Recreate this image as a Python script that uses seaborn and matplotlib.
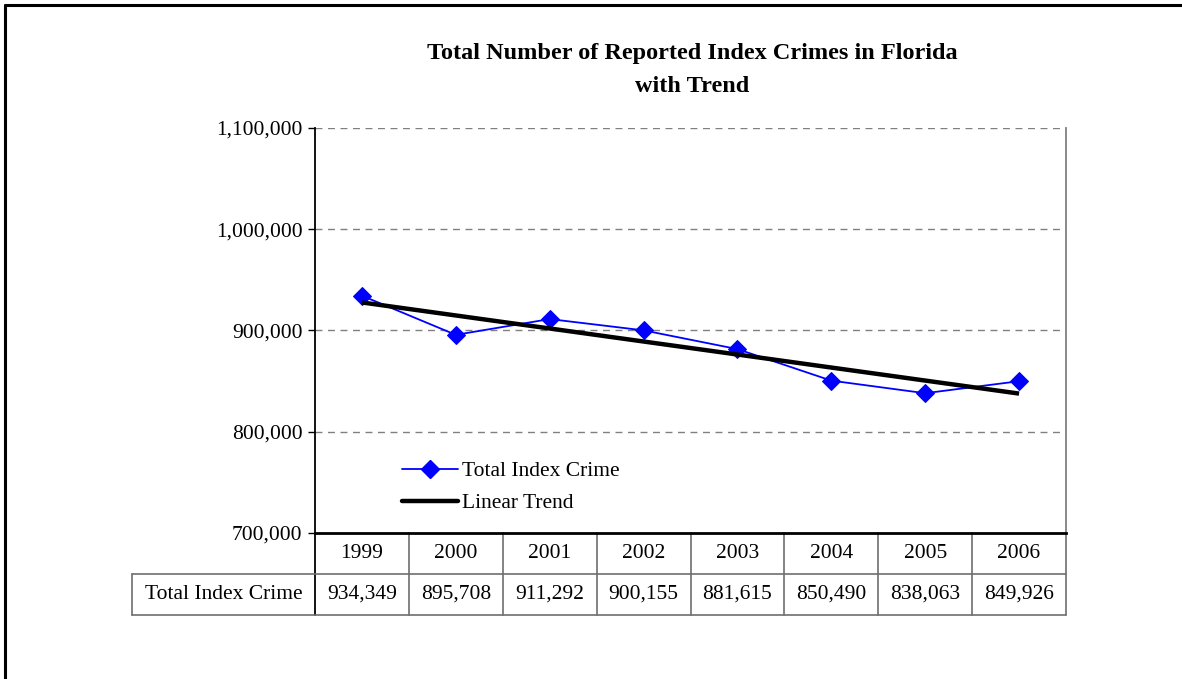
import numpy as np
import pandas as pd
import matplotlib
matplotlib.use("Agg")
import matplotlib.pyplot as plt
import matplotlib.transforms as mtransforms
from matplotlib.lines import Line2D
import seaborn as sns

# data
years = ["1999", "2000", "2001", "2002", "2003", "2004", "2005", "2006"]
total_index_crime = [934349, 895708, 911292, 900155, 881615, 850490, 838063, 849926]
y_ticks = [700000, 800000, 900000, 1000000, 1100000]

df = pd.DataFrame({"pos": np.arange(len(years)), "year": years, "crimes": total_index_crime})

sns.set_style("white")
plt.rcParams["font.family"] = ["Liberation Serif", "DejaVu Serif"]
plt.rcParams["text.color"] = "black"
plt.rcParams["ytick.color"] = "black"
plt.rcParams["axes.labelcolor"] = "black"

FS = 15.5
W, H = 1182, 679
fig = plt.figure(figsize=(W / 100, H / 100), dpi=100)
# plot area in pixels: x 315..1066, y 128..533
ax = fig.add_axes([315 / W, 1 - 533 / H, (1066 - 315) / W, (533 - 128) / H])

# data line and linear trend
sns.lineplot(data=df, x="pos", y="crimes", ax=ax, color="#0000ff", lw=1.3,
             marker="D", markersize=9, markeredgecolor="#0000ff",
             label="Total Index Crime")
sns.regplot(data=df, x="pos", y="crimes", ax=ax, scatter=False, ci=None,
            color="black", line_kws={"lw": 3.2, "solid_capstyle": "butt"},
            label="Linear Trend")

ax.set_xlim(-0.5, len(years) - 0.5)
ax.set_ylim(700000, 1100000)
ax.set_yticks(y_ticks)
ax.set_yticklabels([f"{v:,}" for v in y_ticks], fontsize=FS)
ax.set_xticks([])
ax.set_xlabel("")
ax.set_ylabel("")
ax.tick_params(axis="y", direction="out", length=5, width=1, color="black", pad=4, left=True)
for v in y_ticks[1:]:
    ax.axhline(v, color="#808080", lw=1, ls=(0, (5, 4)), zorder=0)

ax.spines["top"].set_visible(False)
ax.spines["left"].set_color("black")
ax.spines["left"].set_linewidth(1.3)
ax.spines["bottom"].set_color("black")
ax.spines["bottom"].set_linewidth(2)
ax.spines["right"].set_color("#808080")
ax.spines["right"].set_linewidth(1.3)

# legend
ax.legend(handles=[
    Line2D([], [], color="#0000ff", lw=1.3, marker="D", markersize=9),
    Line2D([], [], color="black", lw=3.2)],
    labels=["Total Index Crime", "Linear Trend"],
    loc="upper left", bbox_to_anchor=(0.09, 0.225), frameon=False,
    fontsize=FS, handlelength=2.6, handletextpad=0.2, labelspacing=0.55)

# data table below the plot
trans = mtransforms.blended_transform_factory(ax.transData, ax.transAxes)
row1 = (533 - 574) / (533 - 128)
row2 = (533 - 615) / (533 - 128)
label_left = (132 - 315) / (1066 - 315)
lc = "#6e6e6e"
for i, (yr, val) in enumerate(zip(years, total_index_crime)):
    ax.text(i, (0 + row1) / 2, yr, transform=trans, ha="center", va="center", fontsize=FS)
    ax.text(i, (row1 + row2) / 2, f"{val:,}", transform=trans, ha="center", va="center", fontsize=FS)
    if i > 0:
        ax.plot([i - 0.5, i - 0.5], [0, row2], transform=trans, color=lc, lw=1.2, clip_on=False)
ax.plot([-0.5, -0.5], [0, row2], transform=trans, color="black", lw=1.3, clip_on=False)
ax.plot([len(years) - 0.5] * 2, [0, row2], transform=trans, color=lc, lw=1.2, clip_on=False)
ax.plot([label_left, 1], [row1, row1], transform=ax.transAxes, color=lc, lw=1.2, clip_on=False)
ax.plot([label_left, 1], [row2, row2], transform=ax.transAxes, color=lc, lw=1.2, clip_on=False)
ax.plot([label_left, label_left], [row1, row2], transform=ax.transAxes, color=lc, lw=1.2, clip_on=False)
ax.text((label_left + 0) / 2, (row1 + row2) / 2, "Total Index Crime", transform=ax.transAxes,
        ha="center", va="center", fontsize=FS)

# title
fig.text(692 / W, 1 - 53 / H, "Total Number of Reported Index Crimes in Florida",
         ha="center", va="center", fontsize=17.5, fontweight="bold")
fig.text(692 / W, 1 - 86 / H, "with Trend", ha="center", va="center",
         fontsize=17.5, fontweight="bold")

# outer border (left and top)
fig.add_artist(Line2D([5 / W, 5 / W], [0, 1 - 5 / H], color="black", lw=2.2, transform=fig.transFigure))
fig.add_artist(Line2D([5 / W, 1], [1 - 5 / H, 1 - 5 / H], color="black", lw=2.2, transform=fig.transFigure))

fig.savefig("out.png", dpi=100, facecolor="white")
